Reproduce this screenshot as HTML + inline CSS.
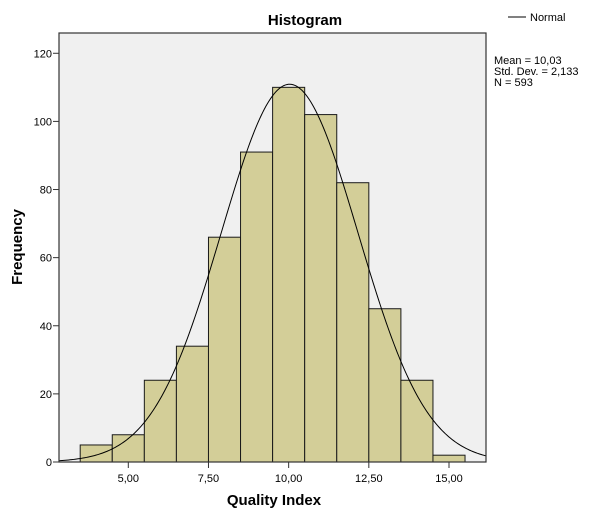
<!DOCTYPE html>
<html><head><meta charset="utf-8"><style>
html,body{margin:0;padding:0;background:#fff;}
svg{display:block;font-family:"Liberation Sans",Arial,sans-serif;}
</style></head><body>
<svg id="chart" width="600" height="523" viewBox="0 0 600 523">
<rect x="59" y="33" width="427" height="429" fill="#f0f0f0"/>
<text x="305" y="25" text-anchor="middle" font-size="15" font-weight="bold">Histogram</text>
<g id="bars"></g>
<path id="curve" fill="none" stroke="#000" stroke-width="1"/>
<rect x="59" y="33" width="427" height="429" fill="none" stroke="#333" stroke-width="1.2"/>
<g id="yaxis"></g><g id="xaxis"></g>
<text transform="translate(22,247) rotate(-90)" text-anchor="middle" font-size="15" font-weight="bold">Frequency</text>
<text x="274" y="505" text-anchor="middle" font-size="15" font-weight="bold">Quality Index</text>
<g>
<line x1="508" y1="17" x2="526" y2="17" stroke="#000" stroke-width="1"/>
<text x="530" y="21" font-size="11">Normal</text>
</g>
<g font-size="11">
<text x="494" y="64">Mean = 10,03</text>
<text x="494" y="75">Std. Dev. = 2,133</text>
<text x="494" y="86">N = 593</text>
</g>
</svg>
<script>
const binStarts=[3.5,4.5,5.5,6.5,7.5,8.5,9.5,10.5,11.5,12.5,13.5,14.5];
const counts=[5,8,24,34,66,91,110,102,82,45,24,2];
const yTicks=[0,20,40,60,80,100,120];
const xTicks=[5,7.5,10,12.5,15];
const xTickLabels=["5,00","7,50","10,00","12,50","15,00"];
const binWidth=1, mean=10.03, sd=2.133, n=593;
const ns="http://www.w3.org/2000/svg";
const X=v=>128.3+(v-5)*32.07;
const Y=v=>462-v*3.406;
const bars=document.getElementById('bars');
binStarts.forEach((s,i)=>{
 const r=document.createElementNS(ns,'rect');
 r.setAttribute('x',X(s));r.setAttribute('width',X(s+binWidth)-X(s));
 r.setAttribute('y',Y(counts[i]));r.setAttribute('height',Y(0)-Y(counts[i]));
 r.setAttribute('fill','#d3ce98');r.setAttribute('stroke','#1a1a1a');r.setAttribute('stroke-width','1');
 
 
 bars.appendChild(r);
});
let d='';
for(let v=2.84;v<=16.15;v+=0.05){
 const f=n*binWidth/(sd*Math.sqrt(2*Math.PI))*Math.exp(-0.5*((v-mean)/sd)**2);
 d+=(d?'L':'M')+X(v).toFixed(2)+','+Y(f).toFixed(2);
}
document.getElementById('curve').setAttribute('d',d);
const ya=document.getElementById('yaxis');
yTicks.forEach(t=>{
 const l=document.createElementNS(ns,'line');
 l.setAttribute('x1',53);l.setAttribute('x2',59);l.setAttribute('y1',Y(t));l.setAttribute('y2',Y(t));l.setAttribute('stroke','#333');
 
 
 ya.appendChild(l);
 const tx=document.createElementNS(ns,'text');
 tx.setAttribute('x',52);tx.setAttribute('y',Y(t)+4);tx.setAttribute('text-anchor','end');tx.setAttribute('font-size','11');
 tx.textContent=t;
 
 
 ya.appendChild(tx);
});
const xa=document.getElementById('xaxis');
xTicks.forEach((t,i)=>{
 const l=document.createElementNS(ns,'line');
 l.setAttribute('x1',X(t));l.setAttribute('x2',X(t));l.setAttribute('y1',462);l.setAttribute('y2',468);l.setAttribute('stroke','#333');
 
 
 xa.appendChild(l);
 const tx=document.createElementNS(ns,'text');
 tx.setAttribute('x',X(t));tx.setAttribute('y',482);tx.setAttribute('text-anchor','middle');tx.setAttribute('font-size','11');
 tx.textContent=xTickLabels[i];
 
 
 xa.appendChild(tx);
});
</script>
</body></html>
